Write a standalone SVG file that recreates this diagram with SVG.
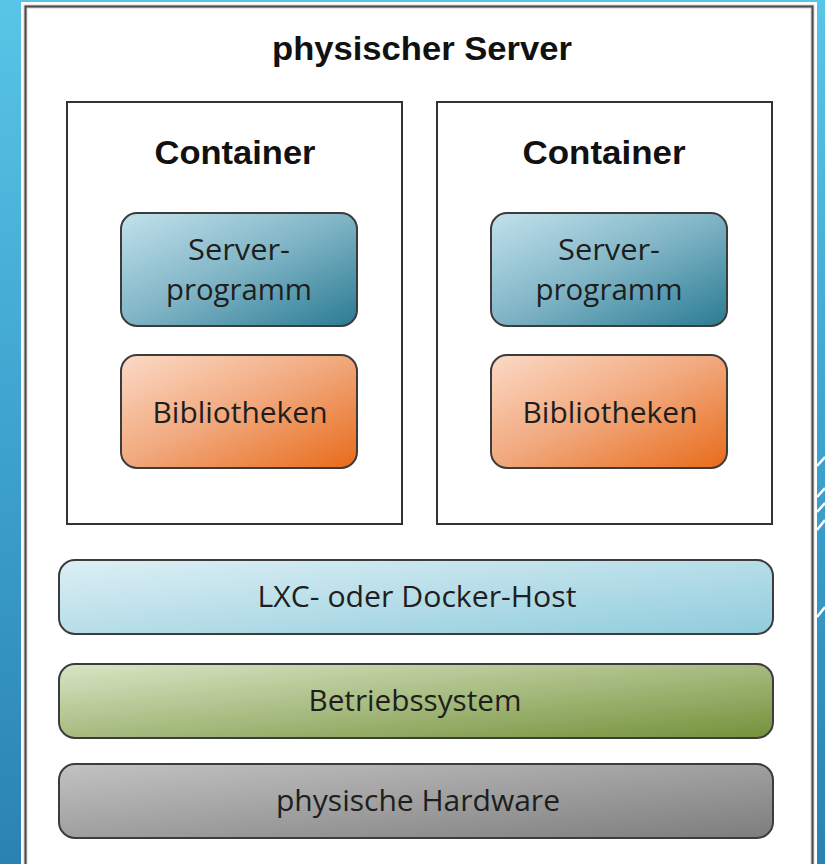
<svg xmlns="http://www.w3.org/2000/svg" width="825" height="864" viewBox="0 0 825 864">
  <defs>
    <linearGradient id="bg" x1="0" y1="0" x2="0" y2="1">
      <stop offset="0" stop-color="#58C5E6"/>
      <stop offset="0.5" stop-color="#3EA3CF"/>
      <stop offset="1" stop-color="#2A82B3"/>
    </linearGradient>
    <linearGradient id="gServer" x1="0" y1="0" x2="1" y2="1">
      <stop offset="0" stop-color="#C2E2EC"/>
      <stop offset="0.5" stop-color="#7FB4C5"/>
      <stop offset="1" stop-color="#2A7B93"/>
    </linearGradient>
    <linearGradient id="gLib" x1="0" y1="0" x2="1" y2="1">
      <stop offset="0" stop-color="#FBDAC6"/>
      <stop offset="0.5" stop-color="#F1A77B"/>
      <stop offset="1" stop-color="#E86B1A"/>
    </linearGradient>
    <linearGradient id="gLxc" x1="0" y1="0" x2="1" y2="1">
      <stop offset="0" stop-color="#DDEFF5"/>
      <stop offset="1" stop-color="#90CCDC"/>
    </linearGradient>
    <linearGradient id="gOs" x1="0" y1="0" x2="1" y2="1">
      <stop offset="0" stop-color="#D9E5C5"/>
      <stop offset="1" stop-color="#74913A"/>
    </linearGradient>
    <linearGradient id="gHw" x1="0" y1="0" x2="1" y2="1">
      <stop offset="0" stop-color="#C2C2C2"/>
      <stop offset="1" stop-color="#7D7D7D"/>
    </linearGradient>
  </defs>
  <style>
    .box { stroke: #3c3c3c; stroke-width: 2; }
    .cont { fill: #ffffff; stroke: #333333; stroke-width: 2; }
    .bold { font-family: "Liberation Sans", Arial, sans-serif; font-weight: bold; fill: #111111; text-anchor: middle; }
    .lbl { font-family: "Open Sans", "Noto Sans", sans-serif; font-size: 30px; fill: #1e1e1e; text-anchor: middle; }
    .deco { stroke: #ffffff; stroke-width: 2.5; }
  </style>

  <!-- background -->
  <rect x="0" y="0" width="825" height="864" fill="url(#bg)"/>
  <g class="deco">
    <line x1="817" y1="466" x2="825" y2="457"/>
    <line x1="817" y1="497" x2="825" y2="488"/>
    <line x1="817" y1="512" x2="825" y2="503"/>
    <line x1="817" y1="530" x2="825" y2="520"/>
    <line x1="817" y1="617" x2="825" y2="607"/>
  </g>

  <!-- physical server panel -->
  <g id="server">
    <rect x="21" y="2" width="796" height="870" fill="#ffffff"/>
    <rect x="25.5" y="6.5" width="787" height="870" fill="#ffffff" stroke="#cfcfcf" stroke-width="4"/>
    <rect x="25.5" y="6.5" width="787" height="870" fill="none" stroke="#4a4a4a" stroke-width="2"/>
    <text class="bold" x="422" y="60" font-size="34" textLength="300" lengthAdjust="spacingAndGlyphs">physischer Server</text>
  </g>

  <g id="container1">
    <rect class="cont" x="67" y="102" width="335" height="422"/>
    <text class="bold" x="235" y="164" font-size="33" textLength="161" lengthAdjust="spacingAndGlyphs">Container</text>
  </g>
  <g id="serverprogramm1">
    <rect class="box" x="121" y="213" width="236" height="113" rx="16" fill="url(#gServer)"/>
    <text class="lbl" x="239" y="260" textLength="102" lengthAdjust="spacingAndGlyphs">Server-</text>
    <text class="lbl" x="239" y="300" textLength="146" lengthAdjust="spacingAndGlyphs">programm</text>
  </g>
  <g id="bibliotheken1">
    <rect class="box" x="121" y="355" width="236" height="113" rx="16" fill="url(#gLib)"/>
    <text class="lbl" x="240" y="423" textLength="175" lengthAdjust="spacingAndGlyphs">Bibliotheken</text>
  </g>

  <g id="container2">
    <rect class="cont" x="437" y="102" width="335" height="422"/>
    <text class="bold" x="604" y="164" font-size="33" textLength="163" lengthAdjust="spacingAndGlyphs">Container</text>
  </g>
  <g id="serverprogramm2">
    <rect class="box" x="491" y="213" width="236" height="113" rx="16" fill="url(#gServer)"/>
    <text class="lbl" x="609" y="260" textLength="102" lengthAdjust="spacingAndGlyphs">Server-</text>
    <text class="lbl" x="609" y="300" textLength="147" lengthAdjust="spacingAndGlyphs">programm</text>
  </g>
  <g id="bibliotheken2">
    <rect class="box" x="491" y="355" width="236" height="113" rx="16" fill="url(#gLib)"/>
    <text class="lbl" x="610" y="423" textLength="175" lengthAdjust="spacingAndGlyphs">Bibliotheken</text>
  </g>

  <g id="host">
    <rect class="box" x="59" y="560" width="714" height="74" rx="16" fill="url(#gLxc)"/>
    <text class="lbl" x="417" y="607" textLength="319" lengthAdjust="spacingAndGlyphs">LXC- oder Docker-Host</text>
  </g>
  <g id="betriebssystem">
    <rect class="box" x="59" y="664" width="714" height="74" rx="16" fill="url(#gOs)"/>
    <text class="lbl" x="415" y="711" textLength="213" lengthAdjust="spacingAndGlyphs">Betriebssystem</text>
  </g>
  <g id="hardware">
    <rect class="box" x="59" y="764" width="714" height="74" rx="16" fill="url(#gHw)"/>
    <text class="lbl" x="418" y="811" textLength="284" lengthAdjust="spacingAndGlyphs">physische Hardware</text>
  </g>

  <g id="connectors"/>
</svg>
